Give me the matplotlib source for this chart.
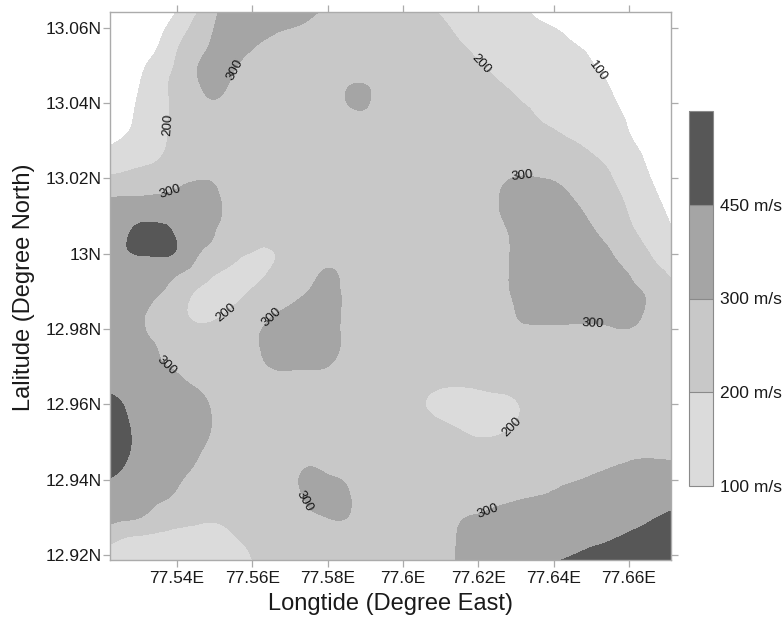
import numpy as np
import matplotlib
matplotlib.use("Agg")
import matplotlib.pyplot as plt
import matplotlib.tri as mtri
from matplotlib.colors import ListedColormap, BoundaryNorm
from matplotlib.cm import ScalarMappable

plt.rcParams['font.family'] = ['Liberation Sans', 'DejaVu Sans']

# grid nodes (degrees)
lon = [77.520, 77.525, 77.530, 77.535, 77.540, 77.545, 77.550, 77.555,
       77.560, 77.565, 77.570, 77.575, 77.580, 77.585, 77.590, 77.595,
       77.600, 77.605, 77.610, 77.615, 77.620, 77.625, 77.630, 77.635,
       77.640, 77.645, 77.650, 77.655, 77.660, 77.665, 77.670, 77.675]
lat = [13.065, 13.060, 13.055, 13.050, 13.045, 13.040, 13.035, 13.030,
       13.025, 13.020, 13.015, 13.010, 13.005, 13.000, 12.995, 12.990,
       12.985, 12.980, 12.975, 12.970, 12.965, 12.960, 12.955, 12.950,
       12.945, 12.940, 12.935, 12.930, 12.925, 12.920, 12.915]

# shear wave velocity (m/s), one row per latitude, north to south
vs = [
 [50,50,50,50,95,180,282,339,375,375, 375,332,286,250,250,250,250,231,184,150, 150,150,125,78,50,50,50,50,50,50, 50,50],
 [50,50,50,76,145,230,302,349,345,319, 301,278,255,250,250,250,250,250,224,176, 150,150,150,126,101,72,50,50,50,50, 50,50],
 [50,50,54,101,192,260,318,336,305,277, 257,250,250,250,250,250,250,250,249,213, 177,150,150,150,138,111,78,50,50,50, 50,50],
 [50,50,79,143,212,290,338,309,271,250, 250,250,250,250,250,250,250,250,250,244, 208,176,150,150,150,144,107,69,50,50, 50,50],
 [50,51,98,167,224,286,324,284,250,250, 250,250,250,290,299,270,250,250,250,250, 242,210,178,150,150,150,134,95,56,50, 50,50],
 [50,62,111,167,219,262,290,260,250,250, 250,250,255,298,312,250,250,250,250,250, 250,245,213,180,150,150,150,117,73,50, 50,50],
 [50,72,119,172,220,250,250,250,250,250, 250,250,250,262,265,255,250,250,250,250, 250,250,246,213,182,161,150,135,91,50, 50,50],
 [80,103,136,179,221,250,250,250,250,250, 250,250,250,250,250,250,250,250,250,250, 250,250,250,245,224,201,176,150,111,69, 50,50],
 [130,152,177,199,240,250,250,250,250,250, 250,250,250,250,250,250,250,250,250,250, 250,250,257,257,252,240,212,182,139,89, 50,50],
 [212,222,233,250,277,292,288,252,250,250, 250,250,250,250,250,250,250,250,250,250, 250,275,305,304,293,270,242,206,158,108, 64,50],
 [299,302,304,309,324,338,314,269,250,250, 250,250,250,250,250,250,250,250,250,250, 250,293,340,350,335,299,265,227,182,130, 82,50],
 [351,378,407,400,396,368,318,271,250,250, 250,250,250,250,250,250,250,250,250,250, 250,288,335,370,362,328,288,247,199,150, 101,57],
 [388,421,490,510,436,367,298,252,230,237, 250,250,250,250,250,250,250,250,250,250, 250,272,320,367,370,354,315,274,222,175, 123,75],
 [400,431,455,465,431,313,273,223,195,192, 236,250,264,250,250,250,250,250,250,250, 250,270,318,365,370,370,342,305,256,205, 153,93],
 [395,400,408,380,313,261,208,180,174,209, 250,271,310,272,250,250,250,250,250,250, 250,272,320,367,370,370,370,333,296,244, 198,130],
 [390,380,359,310,259,195,166,175,207,242, 273,302,327,281,250,250,250,250,250,250, 250,270,317,365,370,370,370,361,322,288, 236,203],
 [390,365,319,275,229,180,178,209,242,283, 311,339,331,284,250,250,250,250,250,250, 250,255,302,337,339,334,331,336,335,288, 250,250],
 [390,365,317,270,238,215,221,239,276,319, 350,370,331,284,250,250,250,250,250,250, 250,250,281,286,288,286,287,292,297,267, 250,250],
 [385,365,336,297,258,250,250,250,281,328, 370,370,330,283,250,250,250,250,250,250, 250,250,250,250,250,250,250,250,250,250, 250,250],
 [405,380,365,317,288,260,250,250,263,302, 312,309,299,260,250,250,250,250,250,250, 250,250,250,250,250,250,250,250,250,250, 250,250],
 [442,415,398,370,328,294,262,250,250,255, 265,262,253,250,250,250,250,232,210,204, 211,220,229,250,250,250,250,250,250,250, 250,250],
 [485,455,415,390,365,331,284,250,250,250, 250,250,250,250,250,250,250,211,165,158, 164,173,194,232,250,250,250,250,250,250, 250,250],
 [500,470,427,398,365,337,290,250,250,250, 250,250,250,250,250,250,250,240,211,183, 166,171,202,247,250,250,250,250,250,250, 250,250],
 [520,478,431,397,359,325,278,250,250,250, 250,250,250,250,250,250,250,250,249,229, 213,218,239,250,250,250,250,250,254,259, 256,256],
 [512,466,419,384,345,301,254,250,250,250, 263,285,270,250,250,250,250,250,250,250, 250,250,250,250,250,250,264,281,298,306, 303,303],
 [462,430,403,360,312,275,250,250,250,250, 275,322,317,290,250,250,250,250,250,250, 250,250,250,250,274,292,311,328,342,348, 363,368],
 [410,386,347,312,283,250,250,250,250,250, 268,315,353,314,267,250,250,250,250,250, 263,279,292,306,319,339,350,364,383,398, 414,438],
 [340,320,302,258,232,218,214,232,250,250, 265,278,301,301,252,250,250,250,250,288, 311,326,340,352,357,374,389,404,420,439, 461,482],
 [264,213,195,185,178,171,167,195,230,250, 250,250,258,252,250,250,250,250,262,309, 355,350,357,381,397,413,427,439,460,480, 502,520],
 [167,157,150,150,150,150,150,165,205,250, 250,250,250,250,250,250,250,250,264,311, 357,355,365,405,431,449,467,485,507,520, 520,520],
 [150,150,150,150,150,150,150,150,187,234, 250,250,250,250,250,250,250,250,267,314, 360,370,443,461,479,496,514,520,520,520, 520,520],
]

# contour classes and legend
fill_levels = [0, 100, 200, 300, 450, 1000]
fill_colors = ['#ffffff', '#dbdbdb', '#c8c8c8', '#a5a5a5', '#575757']
line_levels = [100, 200, 300]
bar_bounds = [100, 200, 300, 450, 600]
bar_ticks = [100, 200, 300, 450]
bar_labels = ['100 m/s', '200 m/s', '300 m/s', '450 m/s']

# contour label anchor points (lon, lat)
label_at = [(77.5381, 13.0164), (77.5376, 13.0342), (77.5554, 13.0488),
            (77.6210, 13.0507), (77.6524, 13.0488), (77.6316, 13.0204),
            (77.6505, 12.9811), (77.5527, 12.9846), (77.5652, 12.9832),
            (77.5373, 12.9705), (77.6290, 12.9540), (77.5761, 12.9354),
            (77.6223, 12.9320)]

xticks = [77.54, 77.56, 77.58, 77.60, 77.62, 77.64, 77.66]
xticklabels = ['77.54E', '77.56E', '77.58E', '77.6E', '77.62E', '77.64E', '77.66E']
yticks = [12.92, 12.94, 12.96, 12.98, 13.00, 13.02, 13.04, 13.06]
yticklabels = ['12.92N', '12.94N', '12.96N', '12.98N', '13N', '13.02N', '13.04N', '13.06N']

V = np.array(vs, dtype=float)
X, Y = np.meshgrid(lon, lat)

# smooth surface through the grid nodes (cubic patches on a triangulation)
tri = mtri.Triangulation(X.ravel(), Y.ravel())
refiner = mtri.UniformTriRefiner(tri)
tri_fine, v_fine = refiner.refine_field(V.ravel(), subdiv=3)

fig = plt.figure(figsize=(7.84, 6.26), dpi=100)
ax = fig.add_axes([110 / 784, 1 - 560 / 626, 561 / 784, 548 / 626])

ax.tricontourf(tri_fine, v_fine, levels=fill_levels, colors=fill_colors)
cs = ax.tricontour(tri_fine, v_fine, levels=line_levels, colors='k', linewidths=0)
ax.clabel(cs, manual=label_at, inline=False, fmt='%d', fontsize=9.5, colors='#111111')

ax.set_xlim(77.5222, 77.6712)
ax.set_ylim(12.9187, 13.0642)
ax.set_xticks(xticks)
ax.set_xticklabels(xticklabels)
ax.set_yticks(yticks)
ax.set_yticklabels(yticklabels)
ax.tick_params(direction='out', length=5, width=0.9, top=True, right=True,
               labelsize=12.5, color='#ababab', labelcolor='#1a1a1a')
ax.tick_params(axis='y', pad=1)
ax.tick_params(axis='x', pad=3)
for sp in ax.spines.values():
    sp.set_color('#ababab')
    sp.set_linewidth(1.0)

fig.text(390 / 784, 1 - 604 / 626, 'Longtide (Degree East)', ha='center', va='center',
         fontsize=17, color='#1a1a1a')
fig.text(24 / 784, 1 - 287 / 626, 'Lalitude (Degree North)', ha='center', va='center',
         rotation=90, fontsize=17, color='#1a1a1a')

# legend bar
cax = fig.add_axes([689 / 784, 1 - 486 / 626, 24 / 784, 375 / 626])
bar_cmap = ListedColormap(fill_colors[1:])
bar_norm = BoundaryNorm(bar_bounds, bar_cmap.N)
cb = fig.colorbar(ScalarMappable(norm=bar_norm, cmap=bar_cmap), cax=cax,
                  boundaries=bar_bounds, spacing='uniform', ticks=bar_ticks,
                  drawedges=True)
cb.ax.set_yticklabels(bar_labels)
cb.ax.tick_params(length=0, pad=5, labelsize=12.5, labelcolor='#1a1a1a')
cb.ax.minorticks_off()
cb.outline.set_edgecolor('#8a8a8a')
cb.outline.set_linewidth(0.8)
cb.dividers.set_color('#8a8a8a')
cb.dividers.set_linewidth(0.8)

fig.savefig('out.png', dpi=100)
